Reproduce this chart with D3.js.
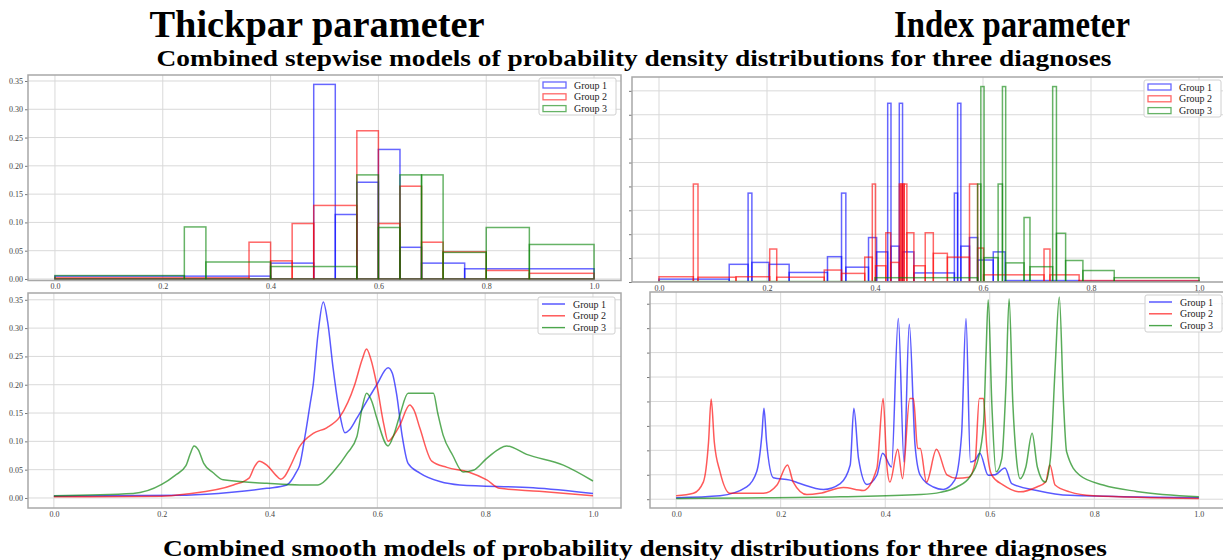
<!DOCTYPE html>
<html>
<head>
<meta charset="utf-8">
<script src="https://cdn.jsdelivr.net/npm/d3@7"></script>
<style>
  body { margin: 0; background: #fff; }
  svg { display: block; }
  text { font-family: "Liberation Serif", "Times New Roman", serif; }
</style>
</head>
<body>
<svg id="chart"></svg>
<script>
const size = {w: 1223, h: 560};
const groups = ['Group 1', 'Group 2', 'Group 3'];
const colors = ['#0000ff', '#ff0000', '#008000'];
const xTicks = [0, 0.2, 0.4, 0.6, 0.8, 1.0];
const yTicksLeft = [0, 0.05, 0.10, 0.15, 0.20, 0.25, 0.30, 0.35];
const yTicksRight = [0, 0.05, 0.10, 0.15, 0.20, 0.25, 0.30, 0.35, 0.40];

// Thickpar, stepwise: bin edges and heights per group
const thickEdges1 = [0, 0.40, 0.48, 0.52, 0.56, 0.60, 0.64, 0.68, 0.76, 1.0];
const thickHeights1 = [0.005, 0.028, 0.344, 0.114, 0.171, 0.229, 0.056, 0.028, 0.018];
const thickEdges2 = [0, 0.36, 0.40, 0.44, 0.48, 0.56, 0.60, 0.64, 0.68, 0.72, 0.80, 0.88, 1.0];
const thickHeights2 = [0.002, 0.065, 0.032, 0.098, 0.130, 0.262, 0.098, 0.164, 0.065, 0.048, 0.015, 0.010];
const thickEdges3 = [0, 0.24, 0.28, 0.40, 0.56, 0.60, 0.64, 0.68, 0.72, 0.80, 0.88, 1.0];
const thickHeights3 = [0.006, 0.092, 0.030, 0.022, 0.184, 0.091, 0.184, 0.184, 0.047, 0.091, 0.061];

// Index, stepwise
const indexEdges1 = [0, 0.130, 0.165, 0.172, 0.204, 0.241, 0.312, 0.338, 0.346, 0.388, 0.403, 0.4235, 0.4296,
  0.445, 0.451, 0.472, 0.547, 0.553, 0.559, 0.575, 0.590, 0.619, 0.641, 0.778, 1.0];
const indexHeights1 = [0.006, 0.037, 0.186, 0.041, 0.037, 0.020, 0.053, 0.186, 0.031, 0.093, 0.063, 0.374,
  0.075, 0.374, 0.063, 0.019, 0.186, 0.374, 0.075, 0.093, 0.046, 0.063, 0.003, 0.002];
const indexEdges2 = [0, 0.0636, 0.0722, 0.1426, 0.205, 0.218, 0.306, 0.338, 0.381, 0.395, 0.401, 0.420, 0.429,
  0.445, 0.448, 0.451, 0.454, 0.459, 0.472, 0.493, 0.508, 0.534, 0.575, 0.590, 0.601, 0.713, 0.724, 0.778, 1.0];
const indexHeights2 = [0.011, 0.205, 0.010, 0.011, 0.069, 0.010, 0.025, 0.018, 0.052, 0.205, 0.034, 0.103, 0.041,
  0.205, 0.205, 0.205, 0.205, 0.103, 0.034, 0.103, 0.060, 0.052, 0.205, 0.071, 0.015, 0.069, 0.015, 0.003];
const indexEdges3 = [0, 0.40, 0.590, 0.596, 0.602, 0.628, 0.636, 0.642, 0.676, 0.687, 0.729, 0.736, 0.753, 0.785, 0.843, 1.0];
const indexHeights3 = [0.001, 0.009, 0.205, 0.409, 0.051, 0.205, 0.409, 0.040, 0.135, 0.032, 0.409, 0.102, 0.045, 0.024, 0.009];

// Thickpar, smooth: [x, density]
const thickSmooth1 = [[0,0.003],[0.1,0.004],[0.246,0.005],[0.33,0.010],[0.395,0.017],[0.432,0.023],[0.450,0.046],
  [0.456,0.058],[0.466,0.11],[0.475,0.164],[0.481,0.200],[0.490,0.29],[0.4997,0.346],[0.508,0.31],[0.518,0.229],
  [0.530,0.15],[0.540,0.115],[0.548,0.12],[0.562,0.141],[0.580,0.170],[0.599,0.200],[0.620,0.230],[0.628,0.22],
  [0.636,0.182],[0.646,0.11],[0.657,0.061],[0.679,0.044],[0.716,0.029],[0.753,0.023],[0.889,0.018],[1.0,0.008]];
const thickSmooth2 = [[0,0.002],[0.2,0.003],[0.246,0.007],[0.333,0.023],[0.362,0.035],[0.372,0.055],[0.381,0.065],
  [0.395,0.058],[0.412,0.040],[0.421,0.033],[0.428,0.038],[0.438,0.055],[0.456,0.091],[0.481,0.114],[0.506,0.124],
  [0.531,0.144],[0.558,0.200],[0.572,0.245],[0.580,0.263],[0.588,0.245],[0.599,0.200],[0.612,0.13],[0.620,0.100],
  [0.630,0.11],[0.642,0.129],[0.660,0.164],[0.668,0.155],[0.679,0.123],[0.701,0.065],[0.729,0.054],[0.769,0.046],
  [0.803,0.032],[0.827,0.017],[0.9,0.012],[1.0,0.004]];
const thickSmooth3 = [[0,0.004],[0.147,0.008],[0.2,0.024],[0.225,0.040],[0.245,0.057],[0.253,0.078],[0.260,0.092],
  [0.268,0.085],[0.278,0.061],[0.295,0.045],[0.314,0.032],[0.395,0.026],[0.456,0.023],[0.490,0.023],[0.518,0.046],
  [0.545,0.08],[0.562,0.108],[0.572,0.16],[0.580,0.185],[0.590,0.17],[0.599,0.141],[0.620,0.092],[0.630,0.11],
  [0.642,0.147],[0.657,0.185],[0.704,0.185],[0.712,0.15],[0.722,0.111],[0.740,0.075],[0.759,0.046],[0.778,0.049],
  [0.803,0.070],[0.840,0.092],[0.877,0.077],[0.945,0.058],[1.0,0.030]];

// Index, smooth
const indexSmooth1 = [[0,0.003],[0.084,0.007],[0.135,0.025],[0.154,0.056],[0.164,0.131],[0.168,0.186],[0.173,0.117],
  [0.186,0.044],[0.218,0.039],[0.237,0.032],[0.282,0.020],[0.314,0.032],[0.333,0.070],[0.340,0.186],[0.349,0.083],
  [0.365,0.030],[0.384,0.049],[0.395,0.094],[0.412,0.066],[0.425,0.370],[0.436,0.076],[0.446,0.358],[0.457,0.111],
  [0.467,0.049],[0.492,0.025],[0.511,0.020],[0.533,0.039],[0.546,0.131],[0.5545,0.370],[0.563,0.076],[0.572,0.080],
  [0.581,0.094],[0.597,0.049],[0.610,0.050],[0.629,0.064],[0.642,0.032],[0.690,0.018],[0.753,0.008],[1.0,0.003]];
const indexSmooth2 = [[0,0.007],[0.033,0.012],[0.052,0.035],[0.062,0.117],[0.067,0.205],[0.073,0.117],[0.084,0.056],
  [0.103,0.012],[0.167,0.012],[0.193,0.029],[0.213,0.070],[0.224,0.035],[0.250,0.0096],[0.275,0.012],[0.320,0.024],
  [0.358,0.018],[0.384,0.063],[0.396,0.206],[0.403,0.070],[0.409,0.035],[0.424,0.102],[0.433,0.042],[0.447,0.206],
  [0.454,0.206],[0.462,0.104],[0.467,0.104],[0.479,0.035],[0.498,0.102],[0.518,0.05],[0.537,0.043],[0.560,0.045],
  [0.572,0.076],[0.580,0.206],[0.588,0.206],[0.594,0.111],[0.604,0.049],[0.626,0.029],[0.658,0.015],[0.690,0.025],
  [0.707,0.035],[0.715,0.070],[0.725,0.029],[0.753,0.015],[0.798,0.007],[1.0,0.0015]];
const indexSmooth3 = [[0,0.0015],[0.314,0.005],[0.467,0.0096],[0.505,0.014],[0.537,0.025],[0.562,0.046],[0.578,0.083],
  [0.588,0.152],[0.593,0.302],[0.597,0.408],[0.604,0.193],[0.612,0.056],[0.623,0.083],[0.631,0.234],[0.637,0.410],
  [0.644,0.199],[0.651,0.083],[0.658,0.042],[0.669,0.066],[0.681,0.135],[0.691,0.066],[0.706,0.035],[0.716,0.083],
  [0.725,0.268],[0.733,0.414],[0.741,0.199],[0.747,0.097],[0.772,0.049],[0.817,0.029],[0.881,0.016],[1.0,0.005]];

const svg = d3.select('#chart').attr('width', size.w).attr('height', size.h);

// panel frames (pixels) and domains
const panels = [
  {id: 'tl', box: [28, 75, 621, 280.5], xd: [-0.05, 1.05], yd: [-0.0027, 0.3606], yTicks: yTicksLeft, yLabels: true,
   kind: 'hist', series: [[thickEdges1, thickHeights1], [thickEdges2, thickHeights2], [thickEdges3, thickHeights3]],
   legend: [539, 78]},
  {id: 'tr', box: [632, 77, 1226, 282], xd: [-0.05, 1.05], yd: [0, 0.429], yTicks: yTicksRight, yLabels: false,
   kind: 'hist', series: [[indexEdges1, indexHeights1], [indexEdges2, indexHeights2], [indexEdges3, indexHeights3]],
   legend: [1144, 80]},
  {id: 'bl', box: [28, 293, 621, 508], xd: [-0.048, 1.052], yd: [-0.0177, 0.362], yTicks: yTicksLeft, yLabels: true,
   kind: 'line', series: [thickSmooth1, thickSmooth2, thickSmooth3], legend: [538, 297]},
  {id: 'br', box: [650, 292, 1225, 508], xd: [-0.05, 1.05], yd: [-0.018, 0.424], yTicks: yTicksRight, yLabels: false,
   kind: 'line', series: [indexSmooth1, indexSmooth2, indexSmooth3], legend: [1145, 295]}
];

panels.forEach(p => {
  const [x0, y0, x1, y1] = p.box;
  const x = d3.scaleLinear().domain(p.xd).range([x0, x1]);
  const y = d3.scaleLinear().domain(p.yd).range([y1, y0]);
  const g = svg.append('g').classed('panel-' + p.id, true);

  g.append('clipPath').attr('id', 'clip-' + p.id)
    .append('rect').attr('x', x0).attr('y', y0).attr('width', x1 - x0).attr('height', y1 - y0);

  // grid
  g.append('g').attr('stroke', '#d9d9d9').attr('stroke-width', 1)
    .selectAll('line.gx').data(xTicks).join('line')
    .attr('x1', d => x(d)).attr('x2', d => x(d)).attr('y1', y0).attr('y2', y1);
  g.append('g').attr('stroke', '#d9d9d9').attr('stroke-width', 1)
    .selectAll('line.gy').data(p.yTicks).join('line')
    .attr('x1', x0).attr('x2', x1).attr('y1', d => y(d)).attr('y2', d => y(d));

  const plot = g.append('g').attr('clip-path', `url(#clip-${p.id})`);

  if (p.kind === 'hist') {
    p.series.forEach(([edges, heights], i) => {
      const bins = heights.map((h, j) => ({a: edges[j], b: edges[j + 1], h: h}));
      plot.append('g')
        .attr('fill', 'none')
        .attr('stroke', colors[i])
        .attr('stroke-width', 1.5)
        .attr('stroke-opacity', 0.6)
        .selectAll('rect').data(bins).join('rect')
        .attr('x', d => x(d.a))
        .attr('y', d => y(d.h))
        .attr('width', d => x(d.b) - x(d.a))
        .attr('height', d => y(0) - y(d.h));
    });
  } else {
    const line = d3.line().curve(d3.curveMonotoneX).x(d => x(d[0])).y(d => y(d[1]));
    p.series.forEach((pts, i) => {
      plot.append('path')
        .attr('d', line(pts))
        .attr('fill', 'none')
        .attr('stroke', colors[i])
        .attr('stroke-width', 1.5)
        .attr('stroke-opacity', 0.65);
    });
  }

  // axes
  const xAxis = d3.axisBottom(x).tickValues(xTicks).tickSize(0).tickPadding(3).tickFormat(d3.format('.1f'));
  const yAxis = d3.axisLeft(y).tickValues(p.yTicks).tickSize(3).tickPadding(2)
    .tickFormat(p.yLabels ? d3.format('.2f') : () => '');
  const ax = g.append('g').attr('transform', `translate(0,${y1})`).call(xAxis);
  const ay = g.append('g').attr('transform', `translate(${x0},0)`).call(yAxis);
  [ax, ay].forEach(a => {
    a.select('.domain').remove();
    a.selectAll('text').attr('font-size', 8).attr('fill', '#444')
      .attr('font-family', '"Liberation Serif", serif');
    a.selectAll('line').attr('stroke', '#777');
  });

  // frame
  g.append('rect').attr('x', x0).attr('y', y0).attr('width', x1 - x0).attr('height', y1 - y0)
    .attr('fill', 'none').attr('stroke', '#a8a8a8').attr('stroke-width', 1.5);

  // legend
  const [lx, ly] = p.legend;
  const lg = g.append('g').attr('transform', `translate(${lx},${ly})`);
  lg.append('rect').attr('width', 77).attr('height', 37).attr('rx', 2)
    .attr('fill', '#fff').attr('fill-opacity', 0.85).attr('stroke', '#d0d0d0');
  const rows = lg.selectAll('g.row').data(groups).join('g')
    .attr('transform', (d, i) => `translate(0,${7 + i * 11.8})`);
  if (p.kind === 'hist') {
    rows.append('rect').attr('x', 4).attr('y', -3).attr('width', 23).attr('height', 6)
      .attr('fill', 'none').attr('stroke', (d, i) => colors[i]).attr('stroke-opacity', 0.6).attr('stroke-width', 1.3);
  } else {
    rows.append('line').attr('x1', 4).attr('x2', 27).attr('y1', 0).attr('y2', 0)
      .attr('stroke', (d, i) => colors[i]).attr('stroke-opacity', 0.7).attr('stroke-width', 1.4);
  }
  rows.append('text').attr('x', 35).attr('y', 3.5).attr('font-size', 10).attr('fill', '#222').text(d => d);
});

// titles
const titles = [
  {t: 'Thickpar parameter', cx: 317, y: 37, fs: 37, w: 335},
  {t: 'Index parameter', cx: 1012, y: 37, fs: 37, w: 236},
  {t: 'Combined stepwise models of probability density distributions for three diagnoses', cx: 634, y: 66, fs: 24, w: 955},
  {t: 'Combined smooth models of probability density distributions for three diagnoses', cx: 635, y: 556, fs: 24, w: 944}
];
svg.append('g').selectAll('text').data(titles).join('text')
  .attr('x', d => d.cx - d.w / 2)
  .attr('y', d => d.y)
  .attr('font-size', d => d.fs)
  .attr('font-weight', 'bold')
  .attr('fill', '#000')
  .attr('textLength', d => d.w)
  .attr('lengthAdjust', 'spacingAndGlyphs')
  .text(d => d.t);
</script>
</body>
</html>
